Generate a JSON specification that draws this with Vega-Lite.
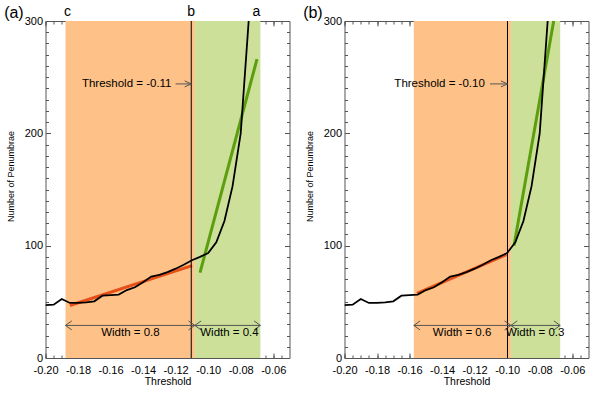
{
"$schema": "https://vega.github.io/schema/vega-lite/v6.json",
"padding": {"left": 3.5, "top": 4, "right": 5, "bottom": 5},
"spacing": 12,
"config": {
  "font": "Liberation Sans",
  "view": {"stroke": null},
  "axis": {"grid": false, "zindex": 1, "domainColor": "#555", "tickColor": "#555", "labelColor": "black", "labelFontSize": 11, "labelOverlap": false, "labelBound": false, "labelFlush": false, "titleFontWeight": "normal", "titleColor": "black"}
},
"datasets": {
  "curve": [{"x":-0.2,"n":47},{"x":-0.195,"n":47.5},{"x":-0.19,"n":52.5},{"x":-0.185,"n":49},{"x":-0.18,"n":49},{"x":-0.175,"n":49.5},{"x":-0.17,"n":50.5},{"x":-0.165,"n":55.5},{"x":-0.16,"n":56},{"x":-0.155,"n":56.5},{"x":-0.15,"n":60.5},{"x":-0.145,"n":63},{"x":-0.14,"n":67.5},{"x":-0.135,"n":72.5},{"x":-0.13,"n":74},{"x":-0.125,"n":76.5},{"x":-0.12,"n":79.5},{"x":-0.115,"n":83},{"x":-0.11,"n":87},{"x":-0.105,"n":90},{"x":-0.1,"n":93.5},{"x":-0.095,"n":103},{"x":-0.09,"n":122},{"x":-0.085,"n":153},{"x":-0.08,"n":200},{"x":-0.075,"n":302}],
  "bandsA": [{"x":-0.1877,"x2":-0.1082,"region":"lower"},{"x":-0.1082,"x2":-0.0679,"region":"upper"}],
  "bandsB": [{"x":-0.1574,"x2":-0.0977,"region":"lower"},{"x":-0.0977,"x2":-0.0674,"region":"upper"}],
  "fitLowA": [{"x":-0.185,"n":46.7},{"x":-0.1099,"n":82.2}],
  "fitHighA": [{"x":-0.105,"n":76},{"x":-0.07,"n":266}],
  "fitLowB": [{"x":-0.1555,"n":57.5},{"x":-0.1005,"n":92}],
  "fitHighB": [{"x":-0.0958,"n":100},{"x":-0.0714,"n":300}],
  "thresholdA": [{"x":-0.1104}],
  "thresholdB": [{"x":-0.0998}],
  "widthArrowsA": [{"x":-0.1877,"x2":-0.1082,"n":29},{"x":-0.1082,"x2":-0.0679,"n":29}],
  "widthArrowsB": [{"x":-0.1574,"x2":-0.0977,"n":29},{"x":-0.0977,"x2":-0.0674,"n":29}],
  "headsA": [{"x":-0.1877,"n":29,"dir":"L"},{"x":-0.1082,"n":29,"dir":"R"},{"x":-0.1082,"n":29,"dir":"L"},{"x":-0.0679,"n":29,"dir":"R"}],
  "headsB": [{"x":-0.1574,"n":29,"dir":"L"},{"x":-0.0977,"n":29,"dir":"R"},{"x":-0.0977,"n":29,"dir":"L"},{"x":-0.0674,"n":29,"dir":"R"}],
  "widthLabelsA": [{"x":-0.1478,"n":22.7,"label":"Width = 0.8"},{"x":-0.0869,"n":22.7,"label":"Width = 0.4"}],
  "widthLabelsB": [{"x":-0.1277,"n":22.7,"label":"Width = 0.6"},{"x":-0.0828,"n":22.7,"label":"Width = 0.3"}],
  "threshArrowA": [{"x":-0.12,"x2":-0.1104,"n":244}],
  "threshArrowB": [{"x":-0.1105,"x2":-0.0998,"n":244}],
  "threshLabelA": [{"x":-0.1213,"n":244,"label":"Threshold = -0.11"}],
  "threshLabelB": [{"x":-0.1125,"n":244,"label":"Threshold = -0.10"}],
  "lettersA": [{"x":-0.1865,"label":"c"},{"x":-0.1104,"label":"b"},{"x":-0.0703,"label":"a"}]
},
"hconcat": [
{
  "width": 244, "height": 337,
  "title": {"text": "(a)", "anchor": "start", "frame": "bounds", "offset": -16, "dx": -2, "fontSize": 16, "fontWeight": "normal", "color": "black"},
  "resolve": {"axis": {"x": "independent", "y": "independent"}},
  "layer": [
    {"data": {"name": "bandsA"}, "mark": {"type": "rect"}, "encoding": {
      "x": {"field": "x", "type": "quantitative", "scale": {"domain": [-0.2, -0.05], "nice": false, "zero": false}, "axis": null},
      "x2": {"field": "x2"},
      "color": {"field": "region", "type": "nominal", "scale": {"domain": ["lower", "upper"], "range": ["#fec187", "#cce09a"]}, "legend": null}}},
    {"data": {"name": "fitLowA"}, "mark": {"type": "line", "color": "#e8501a", "strokeWidth": 3}, "encoding": {
      "x": {"field": "x", "type": "quantitative", "scale": {"domain": [-0.2, -0.05], "nice": false, "zero": false}, "axis": {"orient": "top", "values": [-0.2,-0.18,-0.16,-0.14,-0.12,-0.1,-0.08,-0.06], "labels": false, "tickSize": -5, "title": null, "domain": true}},
      "y": {"field": "n", "type": "quantitative", "scale": {"domain": [0, 300], "nice": false}, "axis": {"orient": "right", "values": [0,100,200,300], "labels": false, "tickSize": -5, "title": null, "domain": true}}}},
    {"data": {"name": "fitHighA"}, "mark": {"type": "line", "color": "#5c9e0e", "strokeWidth": 3}, "encoding": {
      "x": {"field": "x", "type": "quantitative", "scale": {"domain": [-0.2, -0.05], "nice": false, "zero": false}, "axis": {"orient": "bottom", "values": [-0.2,-0.195,-0.19,-0.185,-0.18,-0.175,-0.17,-0.165,-0.16,-0.155,-0.15,-0.145,-0.14,-0.135,-0.13,-0.125,-0.12,-0.115,-0.11,-0.105,-0.1,-0.095,-0.09,-0.085,-0.08,-0.075,-0.07,-0.065,-0.06,-0.055], "labels": false, "tickSize": -3, "title": null, "domain": false}},
      "y": {"field": "n", "type": "quantitative", "scale": {"domain": [0, 300], "nice": false}, "axis": {"orient": "left", "values": [10,20,30,40,50,60,70,80,90,110,120,130,140,150,160,170,180,190,210,220,230,240,250,260,270,280,290], "labels": false, "tickSize": -3, "title": null, "domain": false}}}},
    {"data": {"name": "curve"}, "mark": {"type": "line", "color": "black", "strokeWidth": 1.8, "clip": true}, "encoding": {
      "x": {"field": "x", "type": "quantitative", "scale": {"domain": [-0.2, -0.05], "nice": false, "zero": false}, "axis": {"orient": "bottom", "values": [-0.2,-0.18,-0.16,-0.14,-0.12,-0.1,-0.08,-0.06], "labelExpr": "replace(format(datum.value, '.2f'), '\u2212', '-')", "tickSize": -5, "labelPadding": 11, "title": "Threshold", "titleFontSize": 10.5, "titlePadding": 1, "domain": true}},
      "y": {"field": "n", "type": "quantitative", "scale": {"domain": [0, 300], "nice": false}, "axis": {"orient": "left", "values": [0,100,200,300], "tickSize": -5, "labelPadding": 8, "title": "Number of Penumbrae", "titleFontSize": 9, "titlePadding": 9, "titleY": 155, "domain": true}}}},
    {"data": {"name": "thresholdA"}, "mark": {"type": "rule", "color": "black", "strokeWidth": 1}, "encoding": {
      "x": {"field": "x", "type": "quantitative", "scale": {"domain": [-0.2, -0.05], "nice": false, "zero": false}, "axis": null}}},
    {"data": {"name": "widthArrowsA"}, "mark": {"type": "rule", "color": "#555", "strokeWidth": 1}, "encoding": {
      "x": {"field": "x", "type": "quantitative", "scale": {"domain": [-0.2, -0.05], "nice": false, "zero": false}, "axis": {"orient": "top", "values": [-0.2,-0.195,-0.19,-0.185,-0.18,-0.175,-0.17,-0.165,-0.16,-0.155,-0.15,-0.145,-0.14,-0.135,-0.13,-0.125,-0.12,-0.115,-0.11,-0.105,-0.1,-0.095,-0.09,-0.085,-0.08,-0.075,-0.07,-0.065,-0.06,-0.055], "labels": false, "tickSize": -3, "title": null, "domain": false}},
      "x2": {"field": "x2"},
      "y": {"field": "n", "type": "quantitative", "scale": {"domain": [0, 300], "nice": false}, "axis": {"orient": "right", "values": [10,20,30,40,50,60,70,80,90,110,120,130,140,150,160,170,180,190,210,220,230,240,250,260,270,280,290], "labels": false, "tickSize": -3, "title": null, "domain": false}}}},
    {"data": {"name": "headsA"}, "mark": {"type": "point", "filled": false, "color": "#555", "strokeWidth": 1, "size": 81, "opacity": 1}, "encoding": {
      "x": {"field": "x", "type": "quantitative", "scale": {"domain": [-0.2, -0.05], "nice": false, "zero": false}, "axis": null},
      "y": {"field": "n", "type": "quantitative", "scale": {"domain": [0, 300], "nice": false}, "axis": null},
      "shape": {"field": "dir", "type": "nominal", "scale": {"domain": ["L", "R"], "range": ["M1.4,-1L0,0L1.4,1", "M-1.4,-1L0,0L-1.4,1"]}, "legend": null}}},
    {"data": {"name": "threshArrowA"}, "mark": {"type": "rule", "color": "#555", "strokeWidth": 1}, "encoding": {
      "x": {"field": "x", "type": "quantitative", "scale": {"domain": [-0.2, -0.05], "nice": false, "zero": false}, "axis": null},
      "x2": {"field": "x2"},
      "y": {"field": "n", "type": "quantitative", "scale": {"domain": [0, 300], "nice": false}, "axis": null}}},
    {"data": {"name": "threshArrowA"}, "mark": {"type": "point", "shape": "M-2.2,-1L0,0L-2.2,1", "filled": false, "color": "#555", "strokeWidth": 1, "size": 36, "opacity": 1}, "encoding": {
      "x": {"field": "x2", "type": "quantitative", "scale": {"domain": [-0.2, -0.05], "nice": false, "zero": false}, "axis": null},
      "y": {"field": "n", "type": "quantitative", "scale": {"domain": [0, 300], "nice": false}, "axis": null}}},
    {"data": {"name": "threshLabelA"}, "mark": {"type": "text", "align": "right", "baseline": "middle", "fontSize": 11.5, "color": "black", "dx": -2}, "encoding": {
      "x": {"field": "x", "type": "quantitative", "scale": {"domain": [-0.2, -0.05], "nice": false, "zero": false}, "axis": null},
      "y": {"field": "n", "type": "quantitative", "scale": {"domain": [0, 300], "nice": false}, "axis": null},
      "text": {"field": "label"}}},
    {"data": {"name": "widthLabelsA"}, "mark": {"type": "text", "align": "center", "baseline": "middle", "fontSize": 11.5, "color": "black"}, "encoding": {
      "x": {"field": "x", "type": "quantitative", "scale": {"domain": [-0.2, -0.05], "nice": false, "zero": false}, "axis": null},
      "y": {"field": "n", "type": "quantitative", "scale": {"domain": [0, 300], "nice": false}, "axis": null},
      "text": {"field": "label"}}},
    {"data": {"name": "lettersA"}, "mark": {"type": "text", "align": "center", "baseline": "alphabetic", "dy": -5, "fontSize": 14, "color": "black"}, "encoding": {
      "x": {"field": "x", "type": "quantitative", "scale": {"domain": [-0.2, -0.05], "nice": false, "zero": false}, "axis": null},
      "y": {"datum": 300, "type": "quantitative", "scale": {"domain": [0, 300], "nice": false}, "axis": null},
      "text": {"field": "label"}}}
  ]
},
{
  "width": 244, "height": 337,
  "title": {"text": "(b)", "anchor": "start", "frame": "bounds", "offset": -5.5, "dx": -2, "fontSize": 16, "fontWeight": "normal", "color": "black"},
  "resolve": {"axis": {"x": "independent", "y": "independent"}},
  "layer": [
    {"data": {"name": "bandsB"}, "mark": {"type": "rect"}, "encoding": {
      "x": {"field": "x", "type": "quantitative", "scale": {"domain": [-0.2, -0.05], "nice": false, "zero": false}, "axis": null},
      "x2": {"field": "x2"},
      "color": {"field": "region", "type": "nominal", "scale": {"domain": ["lower", "upper"], "range": ["#fec187", "#cce09a"]}, "legend": null}}},
    {"data": {"name": "fitLowB"}, "mark": {"type": "line", "color": "#e8501a", "strokeWidth": 3}, "encoding": {
      "x": {"field": "x", "type": "quantitative", "scale": {"domain": [-0.2, -0.05], "nice": false, "zero": false}, "axis": {"orient": "top", "values": [-0.2,-0.18,-0.16,-0.14,-0.12,-0.1,-0.08,-0.06], "labels": false, "tickSize": -5, "title": null, "domain": true}},
      "y": {"field": "n", "type": "quantitative", "scale": {"domain": [0, 300], "nice": false}, "axis": {"orient": "right", "values": [0,100,200,300], "labels": false, "tickSize": -5, "title": null, "domain": true}}}},
    {"data": {"name": "fitHighB"}, "mark": {"type": "line", "color": "#5c9e0e", "strokeWidth": 3}, "encoding": {
      "x": {"field": "x", "type": "quantitative", "scale": {"domain": [-0.2, -0.05], "nice": false, "zero": false}, "axis": {"orient": "bottom", "values": [-0.2,-0.195,-0.19,-0.185,-0.18,-0.175,-0.17,-0.165,-0.16,-0.155,-0.15,-0.145,-0.14,-0.135,-0.13,-0.125,-0.12,-0.115,-0.11,-0.105,-0.1,-0.095,-0.09,-0.085,-0.08,-0.075,-0.07,-0.065,-0.06,-0.055], "labels": false, "tickSize": -3, "title": null, "domain": false}},
      "y": {"field": "n", "type": "quantitative", "scale": {"domain": [0, 300], "nice": false}, "axis": {"orient": "left", "values": [10,20,30,40,50,60,70,80,90,110,120,130,140,150,160,170,180,190,210,220,230,240,250,260,270,280,290], "labels": false, "tickSize": -3, "title": null, "domain": false}}}},
    {"data": {"name": "curve"}, "mark": {"type": "line", "color": "black", "strokeWidth": 1.8, "clip": true}, "encoding": {
      "x": {"field": "x", "type": "quantitative", "scale": {"domain": [-0.2, -0.05], "nice": false, "zero": false}, "axis": {"orient": "bottom", "values": [-0.2,-0.18,-0.16,-0.14,-0.12,-0.1,-0.08,-0.06], "labelExpr": "replace(format(datum.value, '.2f'), '\u2212', '-')", "tickSize": -5, "labelPadding": 11, "title": "Threshold", "titleFontSize": 10.5, "titlePadding": 1, "domain": true}},
      "y": {"field": "n", "type": "quantitative", "scale": {"domain": [0, 300], "nice": false}, "axis": {"orient": "left", "values": [0,100,200,300], "tickSize": -5, "labelPadding": 8, "title": "Number of Penumbrae", "titleFontSize": 9, "titlePadding": 9, "titleY": 155, "domain": true}}}},
    {"data": {"name": "thresholdB"}, "mark": {"type": "rule", "color": "black", "strokeWidth": 1}, "encoding": {
      "x": {"field": "x", "type": "quantitative", "scale": {"domain": [-0.2, -0.05], "nice": false, "zero": false}, "axis": null}}},
    {"data": {"name": "widthArrowsB"}, "mark": {"type": "rule", "color": "#555", "strokeWidth": 1}, "encoding": {
      "x": {"field": "x", "type": "quantitative", "scale": {"domain": [-0.2, -0.05], "nice": false, "zero": false}, "axis": {"orient": "top", "values": [-0.2,-0.195,-0.19,-0.185,-0.18,-0.175,-0.17,-0.165,-0.16,-0.155,-0.15,-0.145,-0.14,-0.135,-0.13,-0.125,-0.12,-0.115,-0.11,-0.105,-0.1,-0.095,-0.09,-0.085,-0.08,-0.075,-0.07,-0.065,-0.06,-0.055], "labels": false, "tickSize": -3, "title": null, "domain": false}},
      "x2": {"field": "x2"},
      "y": {"field": "n", "type": "quantitative", "scale": {"domain": [0, 300], "nice": false}, "axis": {"orient": "right", "values": [10,20,30,40,50,60,70,80,90,110,120,130,140,150,160,170,180,190,210,220,230,240,250,260,270,280,290], "labels": false, "tickSize": -3, "title": null, "domain": false}}}},
    {"data": {"name": "headsB"}, "mark": {"type": "point", "filled": false, "color": "#555", "strokeWidth": 1, "size": 81, "opacity": 1}, "encoding": {
      "x": {"field": "x", "type": "quantitative", "scale": {"domain": [-0.2, -0.05], "nice": false, "zero": false}, "axis": null},
      "y": {"field": "n", "type": "quantitative", "scale": {"domain": [0, 300], "nice": false}, "axis": null},
      "shape": {"field": "dir", "type": "nominal", "scale": {"domain": ["L", "R"], "range": ["M1.4,-1L0,0L1.4,1", "M-1.4,-1L0,0L-1.4,1"]}, "legend": null}}},
    {"data": {"name": "threshArrowB"}, "mark": {"type": "rule", "color": "#555", "strokeWidth": 1}, "encoding": {
      "x": {"field": "x", "type": "quantitative", "scale": {"domain": [-0.2, -0.05], "nice": false, "zero": false}, "axis": null},
      "x2": {"field": "x2"},
      "y": {"field": "n", "type": "quantitative", "scale": {"domain": [0, 300], "nice": false}, "axis": null}}},
    {"data": {"name": "threshArrowB"}, "mark": {"type": "point", "shape": "M-2.2,-1L0,0L-2.2,1", "filled": false, "color": "#555", "strokeWidth": 1, "size": 36, "opacity": 1}, "encoding": {
      "x": {"field": "x2", "type": "quantitative", "scale": {"domain": [-0.2, -0.05], "nice": false, "zero": false}, "axis": null},
      "y": {"field": "n", "type": "quantitative", "scale": {"domain": [0, 300], "nice": false}, "axis": null}}},
    {"data": {"name": "threshLabelB"}, "mark": {"type": "text", "align": "right", "baseline": "middle", "fontSize": 11.5, "color": "black", "dx": -2}, "encoding": {
      "x": {"field": "x", "type": "quantitative", "scale": {"domain": [-0.2, -0.05], "nice": false, "zero": false}, "axis": null},
      "y": {"field": "n", "type": "quantitative", "scale": {"domain": [0, 300], "nice": false}, "axis": null},
      "text": {"field": "label"}}},
    {"data": {"name": "widthLabelsB"}, "mark": {"type": "text", "align": "center", "baseline": "middle", "fontSize": 11.5, "color": "black"}, "encoding": {
      "x": {"field": "x", "type": "quantitative", "scale": {"domain": [-0.2, -0.05], "nice": false, "zero": false}, "axis": null},
      "y": {"field": "n", "type": "quantitative", "scale": {"domain": [0, 300], "nice": false}, "axis": null},
      "text": {"field": "label"}}}
  ]
}
]
}
